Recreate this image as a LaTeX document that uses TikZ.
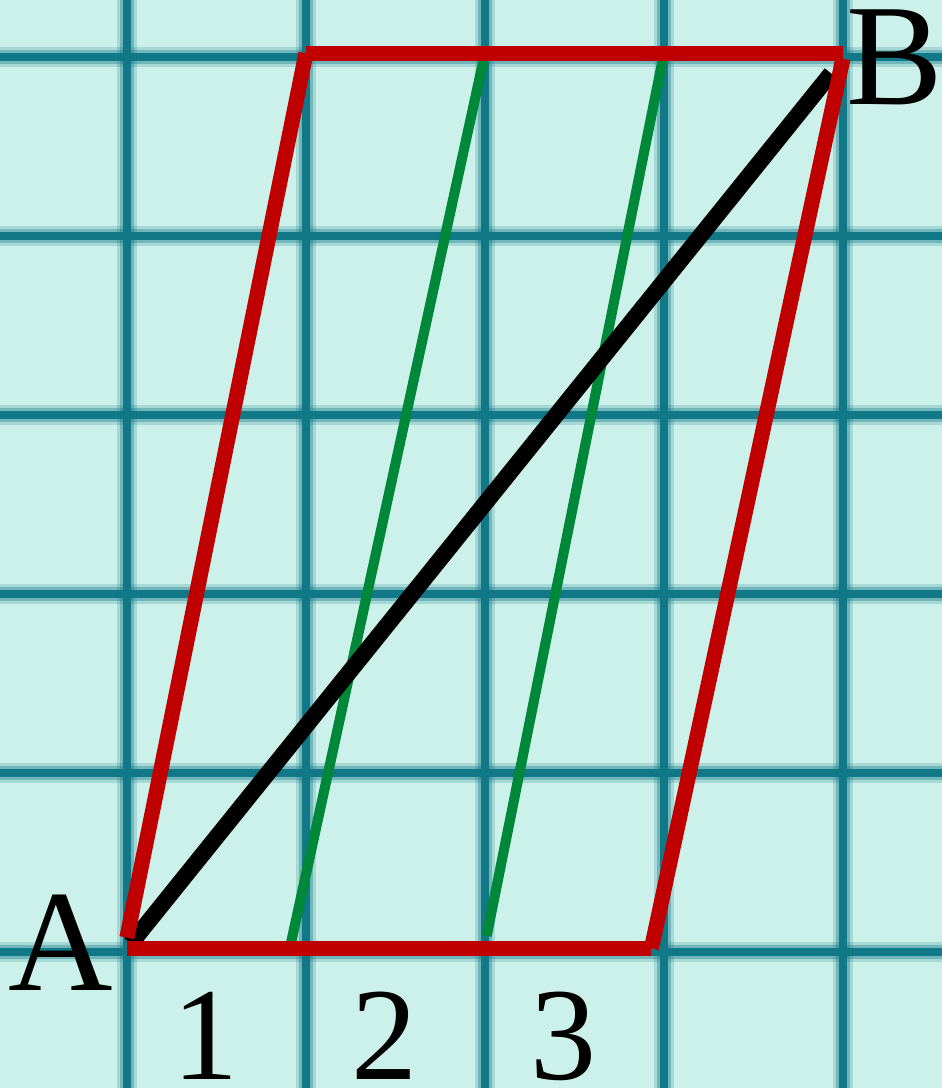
\documentclass[tikz,border=0pt]{standalone}
\usepackage{fontspec}
\setmainfont{Liberation Serif}
\usepackage{tikz}
\usetikzlibrary{calc}
\definecolor{paper}{RGB}{204,241,234}
\definecolor{gridteal}{RGB}{16,120,134}
\definecolor{sidered}{RGB}{192,0,0}
\definecolor{cutgreen}{RGB}{0,136,58}
\tikzset{
  gridwide/.style={draw=gridteal,line width=3.2pt,opacity=0.2},
  gridmid/.style={draw=gridteal,line width=2.2pt,opacity=0.35},
  gridcore/.style={draw=gridteal,line width=1.2pt},
  redside/.style={draw=sidered,line width=2.4pt},
  greencut/.style={draw=cutgreen,line width=1.6pt},
  diag/.style={draw=black,line width=2.6pt},
  bigletter/.style={font=\fontsize{23}{23}\selectfont,inner sep=0pt},
  digit/.style={font=\fontsize{21}{21}\selectfont,inner sep=0pt}
}
\begin{document}
\begin{tikzpicture}[scale=1]
\useasboundingbox (-0.709,-0.760) rectangle (4.553,5.318);
\fill[paper] (-0.709,-0.760) rectangle (4.553,5.318);
% grid
\foreach \x in {0,...,4} {
  \draw[gridwide] (\x,-0.760)--(\x,5.318);
  \draw[gridmid] (\x,-0.760)--(\x,5.318);
  \draw[gridcore] (\x,-0.760)--(\x,5.318);
}
\foreach \y in {0,...,5} {
  \draw[gridwide] (-0.709,\y)--(4.553,\y);
  \draw[gridmid] (-0.709,\y)--(4.553,\y);
  \draw[gridcore] (-0.709,\y)--(4.553,\y);
}
% corners
\coordinate (a) at (0,0.02);
\coordinate (a1) at (0,0.08);
\coordinate (d) at (1,5.02);
\coordinate (b) at (4,5.02);
\coordinate (b1) at (4,4.99);
\coordinate (c) at (2.93,0.02);
% green cuts
\coordinate (g1) at (0.91,0.02);
\coordinate (h1) at (2,5.02);
\coordinate (g2) at (2.01,0.09);
\coordinate (h2) at (3,5.02);
\draw[greencut] (g1)--(h1);
\draw[greencut] (g2)--(h2);
% diagonal
\draw[diag,shorten <=1pt,shorten >=3pt] (a)--(b1);
% red sides
\draw[redside] (a1)--(d);
\draw[redside] (d)--(b);
\draw[redside] (b1)--(c);
\draw[redside] (a)--(c);
% labels
\node[bigletter] (la) at (-0.37,0.05) {A};
\node[bigletter] (lb) at (4.29,5.0) {B};
\node[digit] (n1) at (0.44,-0.47) {1};
\node[digit] (n2) at (1.44,-0.47) {2};
\node[digit] (n3) at (2.44,-0.47) {3};
\end{tikzpicture}
\end{document}
